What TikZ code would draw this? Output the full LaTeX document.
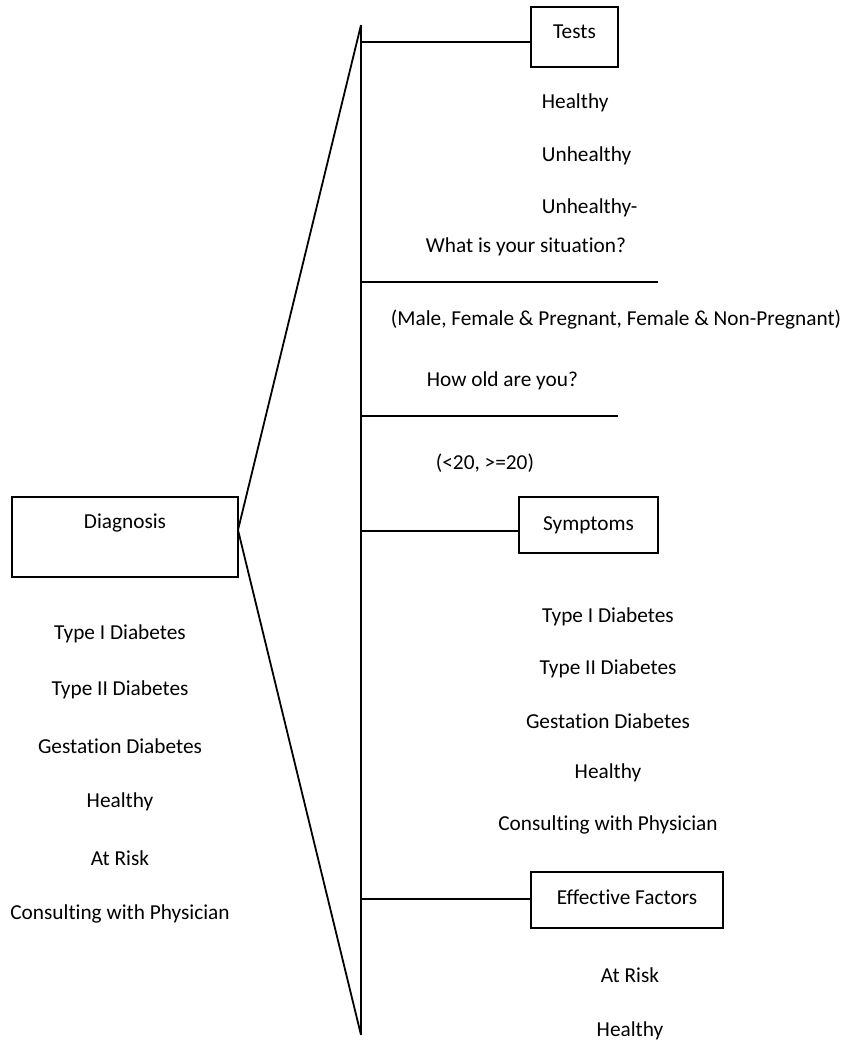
\documentclass[tikz,border=0pt]{standalone}
\usepackage{fontspec}
\setmainfont{Carlito}[Ligatures=NoCommon]
\usetikzlibrary{positioning}

\begin{document}
\begin{tikzpicture}[
    x=1pt, y=-1pt,
    line width=1.8pt,
    font=\fontsize{21.3}{25}\selectfont,
    box/.style={draw, inner sep=0pt},
    item/.style={inner sep=0pt},
    node distance=56pt
]
\useasboundingbox (0,0) rectangle (843,1040);

% main boxes
\node[box, minimum width=226pt, minimum height=80pt, text depth=32pt] (diag) at (125,537) {Diagnosis};
\node[box, minimum width=87pt, minimum height=60pt, text depth=10pt] (tests) at (574.5,37) {Tests};
\node[box, minimum width=139pt, minimum height=56pt] (symp) at (588.5,525) {Symptoms};
\node[box, minimum width=192pt, minimum height=56pt, text depth=6pt] (eff) at (627,900) {Effective Factors};

% spine
\coordinate (apex) at (238,530);
\coordinate (top) at (361,25);
\coordinate (bot) at (361,1035);
\draw[line join=miter] (top) -- (apex) -- (bot);
\draw (top) -- (bot);

\coordinate (jt) at (361,42);
\coordinate (js) at (361,531);
\coordinate (je) at (361,899);
\draw (jt) -- (jt -| tests.west);
\draw (js) -- (js -| symp.west);
\draw (je) -- (je -| eff.west);

% question lines
\coordinate (qa) at (361,282);
\coordinate (qa end) at (658,282);
\coordinate (qb) at (361,416);
\coordinate (qb end) at (618,416);
\draw (qa) -- (qa end);
\draw (qb) -- (qb end);

% tests
\node[item, anchor=west] (t1) at (541,103) {Healthy};
\node[item, anchor=west] (t2) at (541,156) {Unhealthy};
\node[item, anchor=west] (t3) at (541,208) {Unhealthy-};
\node[item] (sit) at (526,247) {What is your situation?};
\node[item, anchor=west] (sit ans) at (390,320) {(Male, Female \& Pregnant, Female \& Non-Pregnant)};
\node[item, anchor=west] (age) at (426,381) {How old are you?};
\node[item, anchor=west] (age ans) at (435,463) {(<20, >=20)};

% diagnosis results
\node[item] (d1) at (120,634) {Type I Diabetes};
\node[item] (d2) [below of=d1] {Type II Diabetes};
\node[item] (d3) [below of=d2] {Gestation Diabetes};
\node[item] (d4) [below of=d3] {Healthy};
\node[item] (d5) [below of=d4] {At Risk};
\node[item] (d6) [below of=d5] {Consulting with Physician};

% symptoms
\begin{scope}[node distance=52pt]
\node[item] (s1) at (608,617) {Type I Diabetes};
\node[item] (s2) [below of=s1] {Type II Diabetes};
\node[item] (s3) [below of=s2] {Gestation Diabetes};
\node[item] (s4) [below of=s3] {Healthy};
\node[item] (s5) [below of=s4] {Consulting with Physician};
\end{scope}

% effective factors
\node[item] (e1) at (630,975) {At Risk};
\node[item] (e2) [below of=e1] {Healthy};

\end{tikzpicture}
\end{document}
